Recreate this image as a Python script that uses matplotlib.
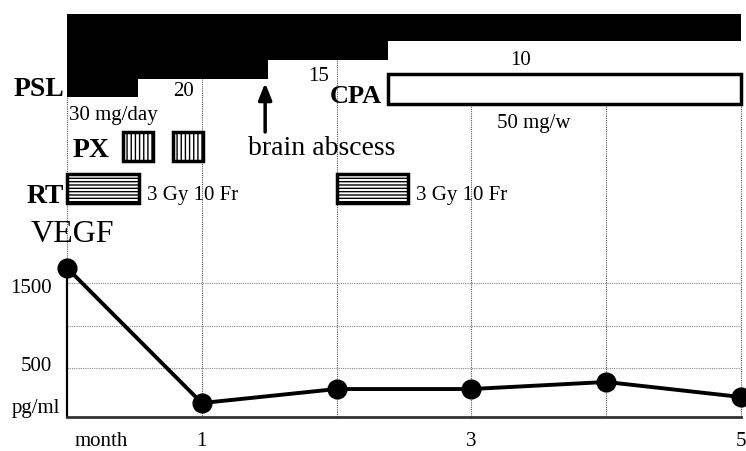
import matplotlib
matplotlib.use("Agg")
import matplotlib.pyplot as plt
from matplotlib.patches import Rectangle

plt.rcParams['font.family'] = ['Liberation Serif', 'DejaVu Serif']
plt.rcParams['hatch.linewidth'] = 1.0

# ---------------- data ----------------
months = [0, 1, 2, 3, 4, 5]
vegf = [1680, 90, 255, 255, 338, 161]          # pg/ml
vegf_ticks = [500, 1000, 1500]
vegf_ticklabels = ['500', '', '1500']
month_ticks = [1, 3, 5]
month_ticklabels = ['1', '3', '5']

psl_edges = [0, 0.527, 1.491, 2.381, 5]          # month of each PSL step
psl_dose = [30, 20, 15, 10]                      # mg/day labels
psl_bar_depth = [30, 23.5, 16.6, 9.8]            # drawn bar depth (as read)

cpa_start, cpa_end = 2.37, 5.0
px_courses = [(0.415, 0.638), (0.786, 1.009)]
rt_courses = [(0.0, 0.534), (2.003, 2.53)]
abscess_month = 1.47

# ---------------- layout ----------------
W, H = 746, 451
fig = plt.figure(figsize=(W / 100, H / 100), dpi=100)
X0, X1 = 67, 741
ppm = (X1 - X0) / 5.0


def m(px):
    return (px - X0) / ppm


# overlay axes: x in months, y in pixels (top = 0)
ov = fig.add_axes([X0 / W, 0, (X1 - X0) / W, 1])
ov.set_xlim(0, 5)
ov.set_ylim(H, 0)
ov.axis('off')
ov.set_zorder(0)

# PSL axes
psl_ax = fig.add_axes([X0 / W, 1 - 97 / H, (X1 - X0) / W, 83 / H])
psl_ax.set_xlim(0, 5)
psl_ax.set_ylim(30, 0)
psl_ax.axis('off')
psl_ax.fill_between(psl_edges, 0, psl_bar_depth + [psl_bar_depth[-1]],
                    step='post', color='black', lw=0)
psl_ax.set_zorder(2)

# main VEGF axes
y0px = 410.7
k = (367.7 - 282.7) / 1000
ylo = (y0px - 416.7) / k
yhi = (y0px - 262) / k
main = fig.add_axes([X0 / W, 1 - 416.7 / H, (X1 - X0) / W, (416.7 - 262) / H])
main.set_xlim(0, 5)
main.set_ylim(ylo, yhi)
main.patch.set_alpha(0)
main.set_zorder(3)
for s in ['top', 'right']:
    main.spines[s].set_visible(False)
main.spines['left'].set_linewidth(1.6)
main.spines['left'].set_bounds(ylo, vegf[0])
main.spines['bottom'].set_linewidth(2.0)
main.spines['bottom'].set_color('#333333')
main.set_yticks(vegf_ticks)
main.set_yticklabels([])
main.yaxis.grid(True, linestyle=(0, (1, 1)), color='#888888', lw=0.8)
main.set_xticks(month_ticks)
main.set_xticklabels(month_ticklabels, fontsize=15)
main.tick_params(axis='x', length=0, pad=11)
main.tick_params(axis='y', length=0)
main.plot(months, vegf, color='black', lw=2.8, marker='o', ms=13.5,
          clip_on=False, zorder=5)

# y labels as text (positions follow reference)
ov.text(m(52), 293, vegf_ticklabels[2], ha='right', va='baseline', fontsize=15)
ov.text(m(52), 371, vegf_ticklabels[0], ha='right', va='baseline', fontsize=15)
ov.text(m(60), 413, 'pg/ml', ha='right', va='baseline', fontsize=15)
ov.text(m(101), 446, 'month', ha='center', va='baseline', fontsize=15)

# vertical dotted grid lines (upper parts)
line_tops = [97, 79, 60, 104, 104, 104]
line_bottoms = [268, 417, 417, 417, 417, 417]
for mo, t, b in zip(months, line_tops, line_bottoms):
    ov.vlines(mo, t, b, colors='#555555', linestyles=(0, (1, 1)), lw=0.8,
              clip_on=False, zorder=0)

# PSL labels
ov.text(m(64), 96, 'PSL', ha='right', va='baseline', fontsize=20, fontweight='bold')
ov.text(m(69), 120, '30 mg/day', ha='left', va='baseline', fontsize=15)
ov.text(m(183), 96, str(psl_dose[1]), ha='center', va='baseline', fontsize=15)
ov.text(m(319), 81, str(psl_dose[2]), ha='center', va='baseline', fontsize=15)
ov.text(m(521), 65, str(psl_dose[3]), ha='center', va='baseline', fontsize=15)

# CPA
ov.add_patch(Rectangle((cpa_start + 0.01, 73.5), cpa_end - cpa_start - 0.01, 30,
                       facecolor='white', edgecolor='black', lw=2.5, zorder=3,
                       clip_on=False))
ov.text(m(382), 103, 'CPA', ha='right', va='baseline', fontsize=19, fontweight='bold')
ov.text(m(497), 128, '50 mg/w', ha='left', va='baseline', fontsize=15)

# PX
ov.text(m(73), 157, 'PX', ha='left', va='baseline', fontsize=20, fontweight='bold')
for a, b in px_courses:
    ov.add_patch(Rectangle((a, 131.5), b - a, 29, facecolor='white',
                           edgecolor='black', lw=2.5, hatch='||||', zorder=3))

# brain abscess arrow
ov.annotate('', xy=(abscess_month, 83), xytext=(abscess_month, 132),
            arrowprops=dict(arrowstyle='-|>,head_width=0.4,head_length=1.0',
                            color='black', lw=2.5, shrinkA=0, shrinkB=0))
ov.text(m(248), 155, 'brain abscess', ha='left', va='baseline', fontsize=20)

# RT
ov.text(m(64), 203, 'RT', ha='right', va='baseline', fontsize=20, fontweight='bold')
for a, b in rt_courses:
    ov.add_patch(Rectangle((a, 173.5), b - a, 29, facecolor='white',
                           edgecolor='black', lw=2.5, hatch='-----', zorder=3,
                           clip_on=False))
    ov.text(b + m(147) - m(139), 200, '3 Gy 10 Fr', ha='left', va='baseline',
            fontsize=15)

# VEGF title
ov.text(m(31), 242, 'VEGF', ha='left', va='baseline', fontsize=23)

fig.savefig('out.png', dpi=100)
